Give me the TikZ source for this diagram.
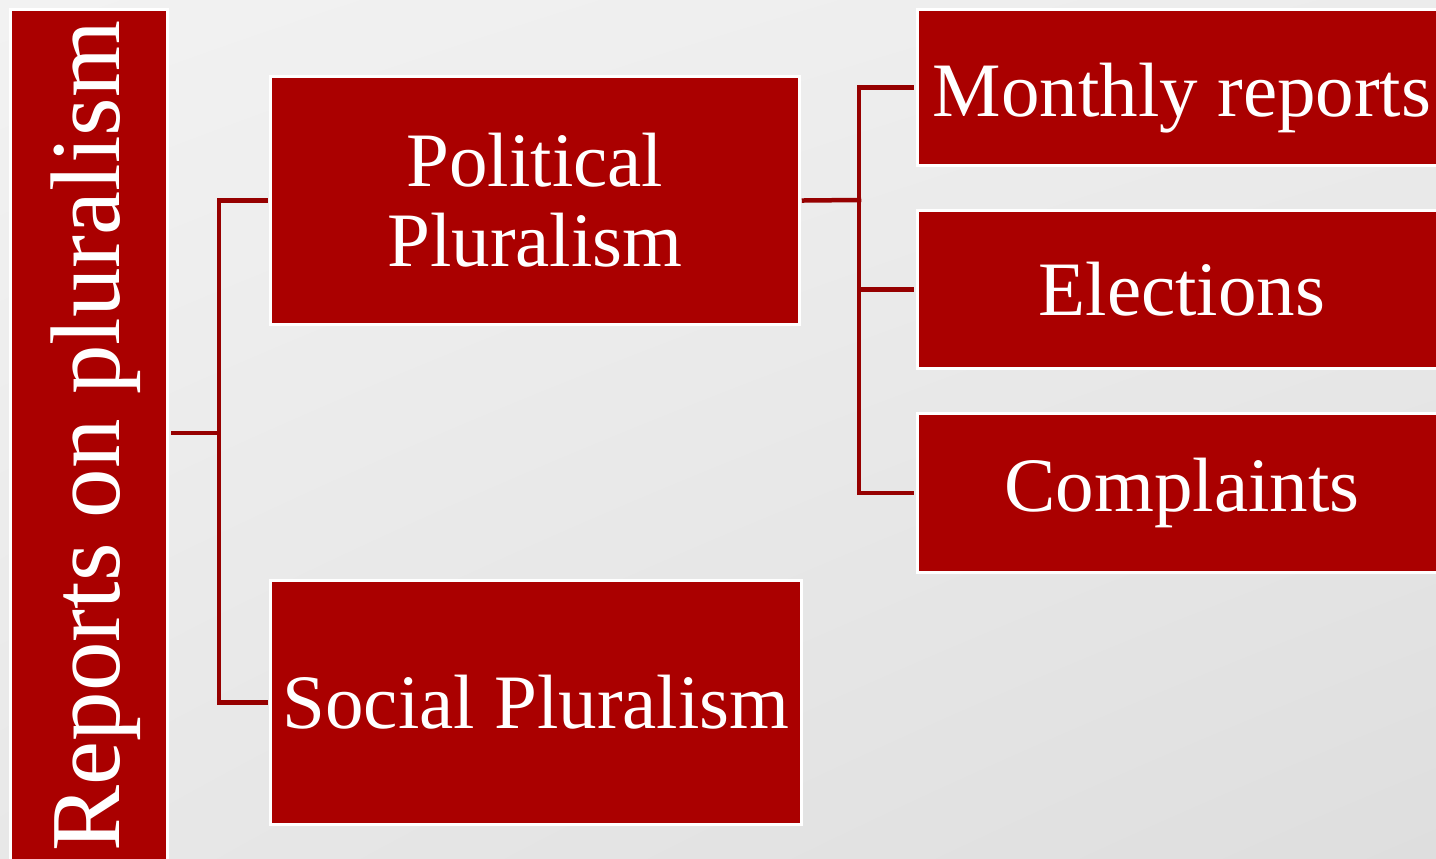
\documentclass[tikz,border=0pt]{standalone}
\usepackage{fontspec}
\setmainfont{Liberation Serif}
\usetikzlibrary{shadings}
\definecolor{boxred}{RGB}{170,0,0}
\definecolor{linkred}{RGB}{150,0,0}
\definecolor{bglight}{RGB}{242,242,242}
\definecolor{bgdark}{RGB}{222,222,222}
\begin{document}
\begin{tikzpicture}[x=1pt,y=-1pt,
  redbox/.style={draw=white, line width=3pt, fill=boxred, text=white, inner sep=0pt, align=center, font=\fontsize{77}{80}\selectfont},
  link/.style={draw=linkred, line width=4.5pt, line join=miter, line cap=rect}]
\useasboundingbox (0,0) rectangle (1436,859);
\shade[upper left=bglight, upper right=bglight!70!bgdark, lower left=bglight!50!bgdark, lower right=bgdark] (0,0) rectangle (1436,859);
% junctions
\coordinate (j1) at (219,433);
\coordinate (j2) at (859,200);
% boxes
\node[redbox, minimum width=157pt, minimum height=851pt] (root) at (89,435) {};
\node[rotate=90, text=white, font=\fontsize{99}{100}\selectfont, inner sep=0pt] (roottext) at ([xshift=7pt,yshift=-1pt]root.center) {Reports on pluralism};
\node[redbox, minimum width=529pt, minimum height=248pt] (pol) at (535,200.5) {Political\\Pluralism};
\node[redbox, minimum width=531pt, minimum height=244pt] (soc) at (536,702.5) {Social Pluralism};
\node[redbox, minimum width=529pt, minimum height=156pt, text depth=0pt] (mon) at (1182,87.5) {\raisebox{-5pt}{Monthly reports}};
\node[redbox, minimum width=529pt, minimum height=158pt] (ele) at (1182,289.5) {Elections};
\node[redbox, minimum width=529pt, minimum height=159pt] (com) at (1182,493) {\raisebox{-3pt}{Complaints}};
% connectors
\draw[link] ([xshift=4pt]root.east |- j1) -- (j1);
\draw[link] ([xshift=-3pt]pol.west) -| (j1) |- ([xshift=-3pt]soc.west);
\draw[link] ([xshift=3pt]pol.east) -- (j2);
\draw[link] ([xshift=-4pt]mon.west) -| (j2) |- ([xshift=-4pt]com.west);
\draw[link] (j2 |- ele.west) -- ([xshift=-4pt]ele.west);
\end{tikzpicture}
\end{document}
